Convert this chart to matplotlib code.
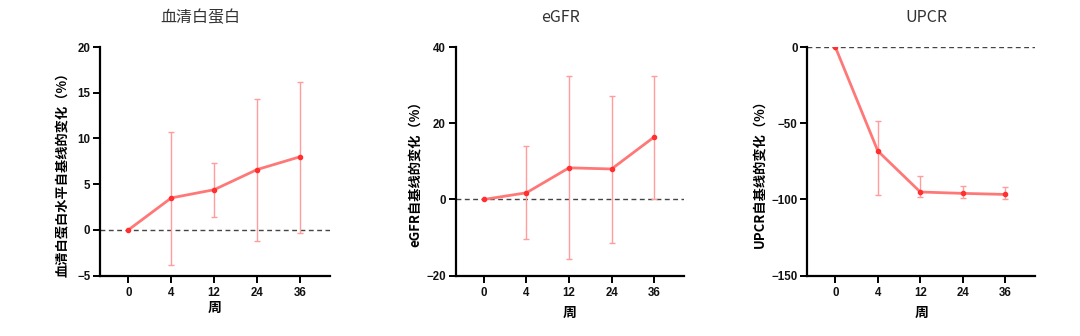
import matplotlib
matplotlib.use("Agg")
import matplotlib.pyplot as plt
import numpy as np

weeks = ["0", "4", "12", "24", "36"]

titles = ["血清白蛋白", "eGFR", "UPCR"]
ylabels = ["血清白蛋白水平自基线的变化（%）", "eGFR自基线的变化（%）", "UPCR自基线的变化（%）"]

alb_mean = [0, 3.5, 4.4, 6.6, 8.0]
alb_low = [0, -3.8, 1.4, -1.2, -0.3]
alb_high = [0, 10.7, 7.3, 14.3, 16.2]

egfr_mean = [0, 1.75, 8.3, 8.0, 16.4]
egfr_low = [0, -10.3, -15.7, -11.4, 0.2]
egfr_high = [0, 13.9, 32.3, 27.2, 32.5]

upcr_mean = [0, -68.2, -95.1, -96.0, -96.7]
upcr_low = [0, -97.1, -98.4, -99.3, -99.5]
upcr_high = [0, -48.3, -84.6, -91.0, -92.1]

ylims = [(-5, 20), (-20, 40), (-150, 0)]
yticks = [[-5, 0, 5, 10, 15, 20], [-20, 0, 20, 40], [-150, -100, -50, 0]]

series = [(alb_mean, alb_low, alb_high), (egfr_mean, egfr_low, egfr_high),
          (upcr_mean, upcr_low, upcr_high)]

W, H = 1080, 336
fig = plt.figure(figsize=(W / 100, H / 100), dpi=100)

axes_px = [(100, 330), (455.7, 684), (807.3, 1035)]
top_px, bot_px = 47, 275.7
title_x = [200, 561, 926]
ylab_x = [63, 415, 759]
xlab_y = [308, 313, 313]

for i in range(3):
    l, r = axes_px[i]
    ax = fig.add_axes([l / W, 1 - bot_px / H, (r - l) / W, (bot_px - top_px) / H])
    m, lo, hi = series[i]
    x = np.arange(len(weeks))
    m = np.array(m); lo = np.array(lo); hi = np.array(hi)
    yerr = np.vstack([m - lo, hi - m])
    ax.axhline(0, color="#444444", lw=1.0, ls=(0, (3.5, 2.5)), zorder=1)
    ax.errorbar(x[1:], m[1:], yerr=yerr[:, 1:], fmt="none", ecolor="#ff9c9c",
                elinewidth=1.0, capsize=2.5, capthick=1.0, zorder=2)
    ax.plot(x, m, color="#ff7878", lw=2.0, zorder=3)
    ax.plot(x, m, "o", color="#ff3030", ms=3, zorder=4)

    ax.set_xlim(-0.66, 4.7)
    ax.set_ylim(*ylims[i])
    ax.set_xticks(x)
    ax.set_xticklabels(weeks)
    ax.set_yticks(yticks[i])
    for s in ["top", "right"]:
        ax.spines[s].set_visible(False)
    for s in ["left", "bottom"]:
        ax.spines[s].set_linewidth(1.6)
        ax.spines[s].set_color("black")
    ax.tick_params(axis="y", direction="out", length=5, width=1.4, pad=2, colors="black")
    ax.tick_params(axis="x", direction="out", length=5, width=1.4, pad=3, colors="black")
    for lab in ax.get_xticklabels() + ax.get_yticklabels():
        lab.set_fontfamily("Liberation Sans")
        lab.set_fontweight("bold")
        lab.set_fontsize(8.3)
        lab.set_color("#111111")

    ax.set_ylabel(ylabels[i], family=["Noto Sans CJK SC", "DejaVu Sans"],
                  fontweight="bold", fontsize=9.5, va="center", color="black")
    ax.yaxis.set_label_coords((ylab_x[i] - l) / (r - l), (bot_px - 171) / (bot_px - top_px))
    ax.set_xlabel("周", family=["Noto Sans CJK SC", "DejaVu Sans"],
                  fontweight="bold", fontsize=10, va="center", color="black")
    ax.xaxis.set_label_coords(0.5, (bot_px - xlab_y[i]) / (bot_px - top_px))

    fig.text(title_x[i] / W, 1 - 18 / H, titles[i], family=["Noto Sans CJK SC", "DejaVu Sans"],
             fontsize=11.5, ha="center", va="center", color="#333333")

fig.savefig("out.png", dpi=100, facecolor="white")
